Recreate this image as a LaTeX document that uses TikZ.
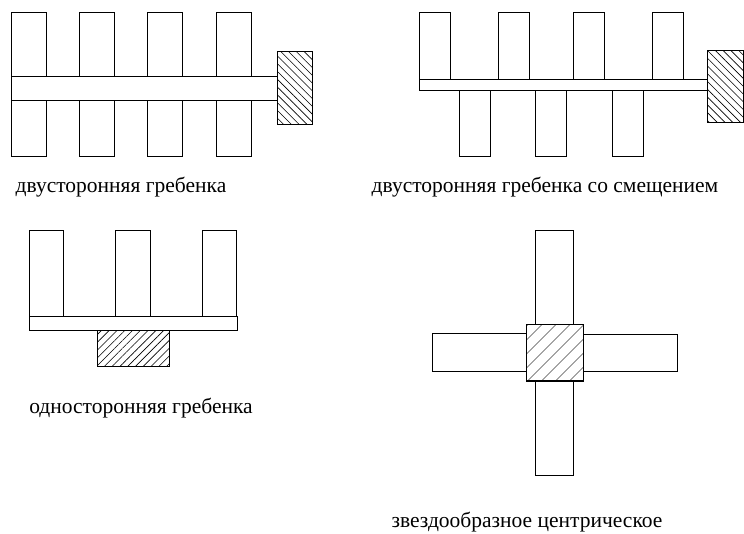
\documentclass[tikz,border=0pt]{standalone}
\usepackage{fontspec}
\setmainfont{Liberation Serif}
\usetikzlibrary{patterns.meta}
\begin{document}
\begin{tikzpicture}[x=1pt,y=-1pt,
  part/.style={draw=black,line width=0.8pt,fill=white},
  hatchdown/.style={pattern={Lines[angle=-45,distance=5.5pt,line width=0.6pt]}},
  hatchup/.style={pattern={Lines[angle=45,distance=5.5pt,line width=0.6pt]}},
  hatchwide/.style={pattern={Lines[angle=45,distance=10.5pt,line width=0.6pt]}},
  lbl/.style={font=\fontsize{21.5}{25}\selectfont,inner sep=0pt,anchor=base}]
\useasboundingbox (0,0) rectangle (744,533);
% figure 1
\foreach \x in {11,79.3,147.3,216} {
  \draw[part] (\x,12.7) rectangle ++(35,63.3);
  \draw[part] (\x,100) rectangle ++(35,56.7);
}
\draw[part] (11,76) rectangle (277,100);
\draw[part] (277,51.7) rectangle (312.7,124);
\path[hatchdown] (277,51.7) rectangle (312.7,124);
% figure 2
\foreach \x in {419.3,498.7,573.7,652.3} {
  \draw[part] (\x,12.7) rectangle ++(31,66.6);
}
\foreach \x in {459.3,535.3,612.3} {
  \draw[part] (\x,90) rectangle ++(31,66.7);
}
\draw[part] (419.3,79.3) rectangle (707,90);
\draw[part] (707,50.7) rectangle (743.2,122.7);
\path[hatchdown] (707,50.7) rectangle (743.2,122.7);
% figure 3
\foreach \x in {29,115.7,202.3} {
  \draw[part] (\x,230) rectangle ++(34.5,86.7);
}
\draw[part] (29,316.7) rectangle (237,330.7);
\draw[part] (97.3,330.7) rectangle (169,366.7);
\path[hatchup] (97.3,330.7) rectangle (169,366.7);
% figure 4
\draw[part] (535.7,230) rectangle (573.7,324.3);
\draw[part] (535.7,381) rectangle (573.7,475);
\draw[part] (432.3,333.3) rectangle (526.3,371);
\draw[part] (583.3,334) rectangle (677.3,371.7);
\draw[part,line width=1.1pt] (526.3,324.3) rectangle (583.3,381);
\path[hatchwide] (526.3,324.3) rectangle (583.3,381);
% labels
\node[lbl] (t1) at (121,192) {двусторонняя гребенка};
\node[lbl] (t2) at (545,192) {двусторонняя гребенка со смещением};
\node[lbl] (t3) at (141,413) {односторонняя гребенка};
\node[lbl] (t4) at (527,527) {звездообразное центрическое};
\end{tikzpicture}
\end{document}
